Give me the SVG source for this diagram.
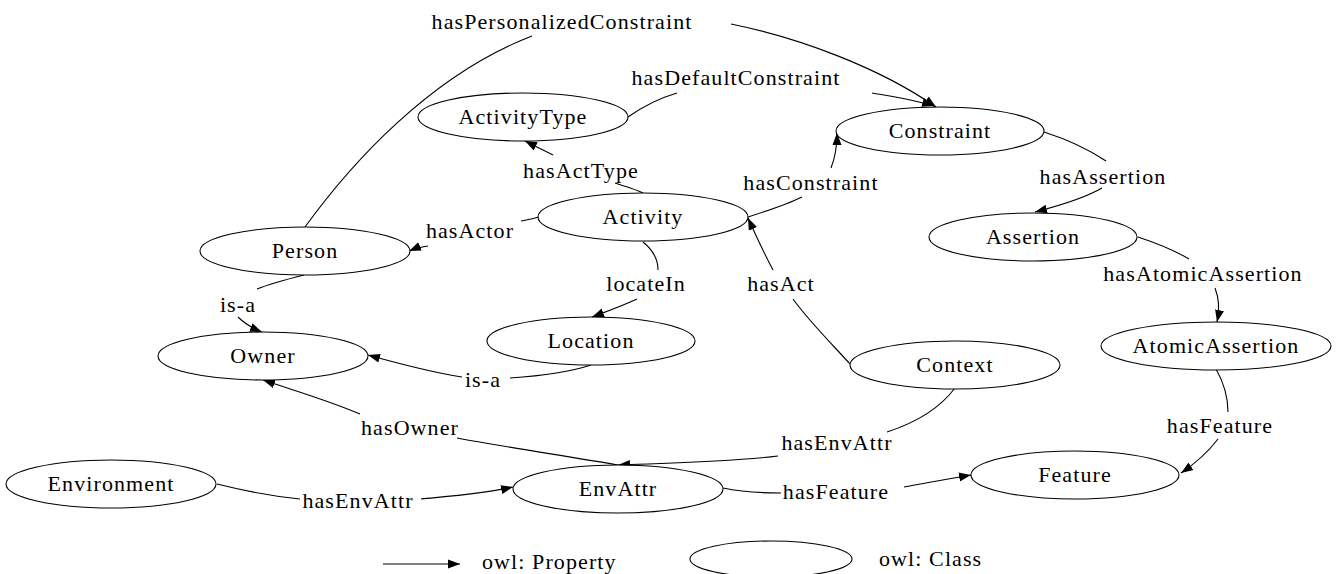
<svg xmlns="http://www.w3.org/2000/svg" width="1340" height="574" viewBox="0 0 1340 574">
<style>
  .n ellipse { fill: #fff; stroke: #000; stroke-width: 1.1; }
  text { font-family: "Liberation Serif", "DejaVu Serif", serif; font-size: 22px; letter-spacing: 1.1px; fill: #000; text-anchor: middle; }
  .e path { fill: none; stroke: #000; stroke-width: 1.1; }
</style>
<defs>
  <marker id="ah" markerUnits="userSpaceOnUse" markerWidth="14" markerHeight="10" refX="12" refY="5" orient="auto">
    <path d="M0,0.5 L12,5 L0,9.5 Z" fill="#000"/>
  </marker>
</defs>
<rect width="1340" height="574" fill="#fff"/>

<g id="connectors" class="e">
  <!-- hasPersonalizedConstraint: Person -> Constraint -->
  <path d="M305,227 C350,165 430,75 532,36"/>
  <path d="M731,24 C800,38 880,68 936,107" marker-end="url(#ah)"/>
  <!-- hasDefaultConstraint: ActivityType -> Constraint -->
  <path d="M628,117 C645,105 660,98 677,93"/>
  <path d="M872,93 C895,97 915,100 934,106" marker-end="url(#ah)"/>
  <!-- hasActType: Activity -> ActivityType -->
  <path d="M643,193 C632,188 623,186 615,183"/>
  <path d="M553,155 C545,151 537,147 525,141" marker-end="url(#ah)"/>
  <!-- hasActor: Activity -> Person -->
  <path d="M539,217 C532,219 526,220 521,221"/>
  <path d="M428,246 C422,247 416,248 409,251" marker-end="url(#ah)"/>
  <!-- hasConstraint: Activity -> Constraint -->
  <path d="M748,217 C770,210 788,204 802,197"/>
  <path d="M831,168 C835,158 837,148 837,133" marker-end="url(#ah)"/>
  <!-- locateIn: Activity -> Location -->
  <path d="M643,242 C653,250 658,260 658,270"/>
  <path d="M637,299 C622,306 608,311 592,317" marker-end="url(#ah)"/>
  <!-- hasAct: Context -> Activity -->
  <path d="M851,365 C830,342 808,320 793,299"/>
  <path d="M773,270 C765,255 757,238 748,218" marker-end="url(#ah)"/>
  <!-- is-a: Person -> Owner -->
  <path d="M304,275 C288,279 272,283 257,289"/>
  <path d="M238,317 C244,323 252,328 262,332" marker-end="url(#ah)"/>
  <!-- is-a: Location -> Owner -->
  <path d="M591,365 C570,372 540,376 510,378"/>
  <path d="M462,377 C430,372 400,364 368,355" marker-end="url(#ah)"/>
  <!-- hasOwner: EnvAttr -> Owner -->
  <path d="M618,465 C560,455 505,447 457,438"/>
  <path d="M360,414 C330,401 296,391 263,380" marker-end="url(#ah)"/>
  <!-- hasEnvAttr: Context -> EnvAttr -->
  <path d="M955,388 C940,408 918,422 887,432"/>
  <path d="M778,456 C730,462 670,463 618,465" marker-end="url(#ah)"/>
  <!-- hasEnvAttr: Environment -> EnvAttr -->
  <path d="M217,484 C245,491 270,496 300,499"/>
  <path d="M421,499 C452,496 482,494 513,487" marker-end="url(#ah)"/>
  <!-- hasFeature: EnvAttr -> Feature -->
  <path d="M723,488 C742,492 762,493 781,493"/>
  <path d="M904,487 C925,483 948,479 971,475" marker-end="url(#ah)"/>
  <!-- hasAssertion: Constraint -> Assertion -->
  <path d="M1044,132 C1066,139 1088,149 1106,161"/>
  <path d="M1102,188 C1085,198 1062,205 1035,212" marker-end="url(#ah)"/>
  <!-- hasAtomicAssertion: Assertion -> AtomicAssertion -->
  <path d="M1138,237 C1156,243 1174,250 1189,259"/>
  <path d="M1215,288 C1219,298 1220,308 1217,322" marker-end="url(#ah)"/>
  <!-- hasFeature: AtomicAssertion -> Feature -->
  <path d="M1216,369 C1224,383 1228,398 1228,412"/>
  <path d="M1218,439 C1208,452 1196,463 1181,473" marker-end="url(#ah)"/>
</g>

<g id="edge-labels">
  <text x="562" y="29">hasPersonalizedConstraint</text>
  <text x="736" y="85">hasDefaultConstraint</text>
  <text x="581" y="178">hasActType</text>
  <text x="811" y="190">hasConstraint</text>
  <text x="1103" y="184">hasAssertion</text>
  <text x="470" y="238">hasActor</text>
  <text x="1203" y="281">hasAtomicAssertion</text>
  <text x="646" y="291">locateIn</text>
  <text x="781" y="291">hasAct</text>
  <text x="238" y="312">is-a</text>
  <text x="483" y="387">is-a</text>
  <text x="410" y="435">hasOwner</text>
  <text x="1220" y="433">hasFeature</text>
  <text x="837" y="450">hasEnvAttr</text>
  <text x="358" y="508">hasEnvAttr</text>
  <text x="836" y="499">hasFeature</text>
</g>

<g id="ActivityType" class="n"><ellipse cx="523" cy="117" rx="105" ry="24"/><text x="523" y="124">ActivityType</text></g>
<g id="Constraint" class="n"><ellipse cx="940" cy="131" rx="104" ry="24"/><text x="940" y="138">Constraint</text></g>
<g id="Activity" class="n"><ellipse cx="643" cy="217" rx="105" ry="24"/><text x="643" y="224">Activity</text></g>
<g id="Person" class="n"><ellipse cx="305" cy="251" rx="105" ry="24"/><text x="305" y="258">Person</text></g>
<g id="Assertion" class="n"><ellipse cx="1033" cy="237" rx="104" ry="24"/><text x="1033" y="244">Assertion</text></g>
<g id="Location" class="n"><ellipse cx="591" cy="341" rx="104" ry="24"/><text x="591" y="348">Location</text></g>
<g id="Owner" class="n"><ellipse cx="263" cy="356" rx="105" ry="24"/><text x="263" y="363">Owner</text></g>
<g id="AtomicAssertion" class="n"><ellipse cx="1216" cy="346" rx="115" ry="24"/><text x="1216" y="353">AtomicAssertion</text></g>
<g id="Context" class="n"><ellipse cx="955" cy="365" rx="105" ry="24"/><text x="955" y="372">Context</text></g>
<g id="Environment" class="n"><ellipse cx="111" cy="484" rx="105" ry="24"/><text x="111" y="491">Environment</text></g>
<g id="EnvAttr" class="n"><ellipse cx="618" cy="489" rx="105" ry="24"/><text x="618" y="496">EnvAttr</text></g>
<g id="Feature" class="n"><ellipse cx="1075" cy="475" rx="104" ry="24"/><text x="1075" y="482">Feature</text></g>

<g id="legend">
  <g class="e"><path d="M383,564 L460,564" marker-end="url(#ah)"/></g>
  <text x="482" y="569" style="text-anchor:start">owl: Property</text>
  <g class="n"><ellipse cx="771" cy="559" rx="81" ry="18"/></g>
  <text x="879" y="566" style="text-anchor:start">owl: Class</text>
</g>
</svg>
